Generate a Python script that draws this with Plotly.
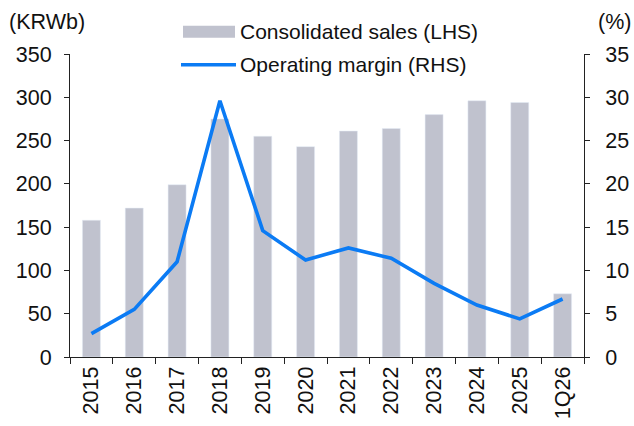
import plotly.graph_objects as go

categories = ["2015", "2016", "2017", "2018", "2019", "2020", "2021", "2022", "2023", "2024", "2025", "1Q26"]
sales = [158, 172, 199, 275, 255, 243, 261, 264, 280, 296, 294, 73]
margin_pct = [2.7, 5.5, 11.0, 29.6, 14.6, 11.2, 12.6, 11.4, 8.5, 6.0, 4.4, 6.7]
left_ticks = [0, 50, 100, 150, 200, 250, 300, 350]
right_ticks = [0, 5, 10, 15, 20, 25, 30, 35]

BAR_COLOR = "#C0C2CE"
LINE_COLOR = "#0B7BF4"
FONT = "Liberation Sans, Arial, sans-serif"
FS = 21.5
LEG_FS = 21

W, H = 634, 426
L, R, T, B = 70, 50, 54.3, 68.7
pw, ph = W - L - R, H - T - B


def px(x):
    return (x - L) / pw


def py(y):
    return (H - B - y) / ph


fig = go.Figure()
fig.add_trace(go.Bar(x=categories, y=sales, marker_color=BAR_COLOR, width=0.42,
                     name="Consolidated sales (LHS)", yaxis="y", showlegend=False))
fig.add_trace(go.Scatter(x=categories, y=margin_pct, mode="lines",
                         line=dict(color=LINE_COLOR, width=3.6),
                         name="Operating margin (RHS)", yaxis="y2", showlegend=False))

axis_common = dict(showgrid=False, zeroline=False, showline=True, linecolor="#222",
                   linewidth=1, ticks="outside", tickcolor="#222", ticklen=5,
                   automargin=False,
                   tickfont=dict(family=FONT, size=FS, color="#111"))

fig.update_layout(
    width=W, height=H,
    margin=dict(l=L, r=R, t=T, b=B, pad=0, autoexpand=False),
    paper_bgcolor="white", plot_bgcolor="white",
    font=dict(family=FONT, size=FS, color="#111"),
    showlegend=False,
    bargap=0.58,
    xaxis=dict(type="category", showgrid=False, zeroline=False, showline=True,
               linecolor="#222", linewidth=1, ticks="outside", tickson="boundaries",
               tickcolor="#222", ticklen=6, tickangle=-90, automargin=False,
               tickfont=dict(family=FONT, size=FS, color="#111"),
               range=[-0.5, len(categories) - 0.5]),
    yaxis=dict(range=[0, 350], tickvals=left_ticks, ticklabelstandoff=8, **axis_common),
    yaxis2=dict(range=[0, 35], tickvals=right_ticks, overlaying="y", side="right",
                ticklabelstandoff=11, **axis_common),
    shapes=[
        dict(type="rect", xref="paper", yref="paper", x0=px(183), x1=px(235),
             y0=py(38), y1=py(26), fillcolor=BAR_COLOR, line=dict(width=0)),
        dict(type="line", xref="paper", yref="paper", x0=px(181), x1=px(236),
             y0=py(65), y1=py(65), line=dict(color=LINE_COLOR, width=3.6)),
    ],
    annotations=[
        dict(text="(KRWb)", xref="paper", yref="paper", x=px(7), y=py(22),
             xanchor="left", yanchor="middle", showarrow=False,
             font=dict(family=FONT, size=FS, color="#111")),
        dict(text="(%)", xref="paper", yref="paper", x=px(633), y=py(22),
             xanchor="right", yanchor="middle", showarrow=False,
             font=dict(family=FONT, size=FS, color="#111")),
        dict(text="Consolidated sales (LHS)", xref="paper", yref="paper", x=px(238), y=py(32),
             xanchor="left", yanchor="middle", showarrow=False,
             font=dict(family=FONT, size=LEG_FS, color="#111")),
        dict(text="Operating margin (RHS)", xref="paper", yref="paper", x=px(238), y=py(65),
             xanchor="left", yanchor="middle", showarrow=False,
             font=dict(family=FONT, size=LEG_FS, color="#111")),
    ],
)

fig.write_html("out.html", config={"displayModeBar": False},
               post_script="document.body.style.margin='0';document.body.style.overflow='hidden';")
